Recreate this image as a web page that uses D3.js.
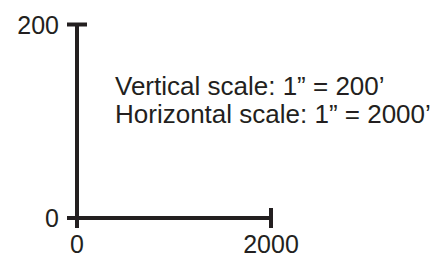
<!DOCTYPE html>
<html>
<head>
<meta charset="utf-8">
<script src="https://d3js.org/d3.v7.min.js"></script>
<style>
  body { margin: 0; background: #fff; }
  text { font-family: "Liberation Sans", Arial, sans-serif; fill: #231f20; }
</style>
</head>
<body>
<svg id="chart" width="439" height="257"></svg>
<script>
// dados
var xTicks = [0, 2000];
var yTicks = [0, 200];
var notes = ["Vertical scale: 1\u201d = 200\u2019", "Horizontal scale: 1\u201d = 2000\u2019"];

var svg = d3.select("#chart");
var ink = "#231f20";

var x = d3.scaleLinear().domain([0, 2000]).range([77, 271]);
var y = d3.scaleLinear().domain([0, 200]).range([218, 24.5]);

// eixos
svg.append("line")
  .attr("x1", x(0)).attr("x2", x(0))
  .attr("y1", y(200)).attr("y2", y(0))
  .attr("stroke", ink).attr("stroke-width", 4);

svg.append("line")
  .attr("x1", x(0)).attr("x2", x(2000))
  .attr("y1", y(0)).attr("y2", y(0))
  .attr("stroke", ink).attr("stroke-width", 4);

// ticks do eixo y
svg.selectAll(".ytick")
  .data(yTicks)
  .enter().append("line")
  .attr("x1", x(0) - 10).attr("x2", x(0) + 10)
  .attr("y1", d => y(d)).attr("y2", d => y(d))
  .attr("stroke", ink).attr("stroke-width", 4);

svg.selectAll(".ylabel")
  .data(yTicks)
  .enter().append("text")
  .attr("x", x(0) - 18)
  .attr("y", d => y(d) + 9)
  .attr("text-anchor", "end")
  .style("font-size", "25px")
  .text(d => d);

// ticks do eixo x (so o 0 desce, o 2000 atravessa)
svg.selectAll(".xtick")
  .data(xTicks)
  .enter().append("line")
  .attr("x1", d => x(d)).attr("x2", d => x(d))
  .attr("y1", d => d === 0 ? y(0) : y(0) - 10)
  .attr("y2", y(0) + 10)
  .attr("stroke", ink).attr("stroke-width", 4);

svg.selectAll(".xlabel")
  .data(xTicks)
  .enter().append("text")
  .attr("x", d => x(d))
  .attr("y", 253)
  .attr("text-anchor", "middle")
  .style("font-size", "25px")
  .text(d => d);

svg.selectAll(".note")
  .data(notes)
  .enter().append("text")
  .attr("x", 115)
  .attr("y", (d, i) => 95 + i * 28)
  .style("font-size", "26px")
  .text(d => d);
</script>
</body>
</html>
